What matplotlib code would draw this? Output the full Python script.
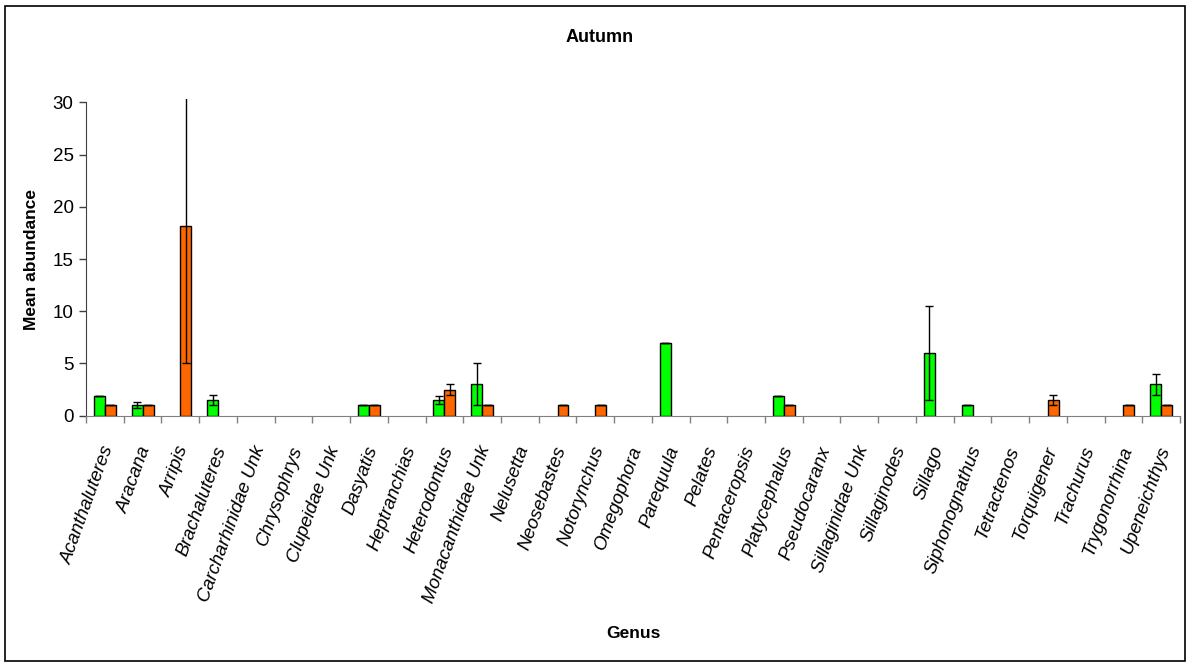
import numpy as np
import matplotlib
matplotlib.use('Agg')
from matplotlib import pyplot as plt
from matplotlib.patches import Rectangle

plt.rcParams['font.family'] = ['Liberation Sans', 'DejaVu Sans']

genera = ['Acanthaluteres', 'Aracana', 'Arripis', 'Brachaluteres', 'Carcharhinidae Unk',
          'Chrysophrys', 'Clupeidae Unk', 'Dasyatis', 'Heptranchias', 'Heterodontus',
          'Monacanthidae Unk', 'Nelusetta', 'Neosebastes', 'Notorynchus', 'Omegophora',
          'Parequula', 'Pelates', 'Pentaceropsis', 'Platycephalus', 'Pseudocaranx',
          'Sillaginidae Unk', 'Sillaginodes', 'Sillago', 'Siphonognathus', 'Tetractenos',
          'Torquigener', 'Trachurus', 'Trygonorrhina', 'Upeneichthys']

# mean abundance and standard error, two series per genus
green_mean = [1.9, 1, 0, 1.5, 0, 0, 0, 1, 0, 1.5, 3, 0, 0, 0, 0, 7, 0, 0, 1.9, 0,
              0, 0, 6, 1, 0, 0, 0, 0, 3]
green_se = [0, 0.3, 0, 0.5, 0, 0, 0, 0, 0, 0.4, 2, 0, 0, 0, 0, 0, 0, 0, 0, 0,
            0, 0, 4.5, 0, 0, 0, 0, 0, 1]
orange_mean = [1, 1, 18.2, 0, 0, 0, 0, 1, 0, 2.5, 1, 0, 1, 1, 0, 0, 0, 0, 1, 0,
               0, 0, 0, 0, 0, 1.5, 0, 1, 1]
orange_se = [0, 0, 13.2, 0, 0, 0, 0, 0, 0, 0.5, 0, 0, 0, 0, 0, 0, 0, 0, 0, 0,
             0, 0, 0, 0, 0, 0.5, 0, 0, 0]

fig = plt.figure(figsize=(11.9, 6.66), dpi=100)
fig.patches.append(Rectangle((5 / 1190, 5 / 666), 1180 / 1190, 655 / 666,
                             transform=fig.transFigure, fill=False,
                             edgecolor='black', linewidth=1.2))

ax = fig.add_axes([86 / 1190, (666 - 415.7) / 666, (1180 - 86) / 1190, 316.5 / 666])

x = np.arange(len(genera)) + 0.5
w = 0.29

for offset, mean, se, col in [(-w / 2, green_mean, green_se, '#00ff00'),
                              (w / 2, orange_mean, orange_se, '#ff6600')]:
    mean = np.array(mean, dtype=float)
    se = np.array(se, dtype=float)
    keep = mean > 0
    ax.bar(x[keep] + offset, mean[keep], width=w, color=col,
           edgecolor='black', linewidth=1.0, zorder=2)
    ax.errorbar(x[keep] + offset, mean[keep], yerr=se[keep], fmt='none',
                ecolor='black', elinewidth=1.0, capsize=3.2, capthick=1.0, zorder=3)

ax.set_xlim(0, len(genera))
ax.set_ylim(0, 30.3)
ax.set_yticks([0, 5, 10, 15, 20, 25, 30])
ax.set_xticks(np.arange(len(genera) + 1))
ax.set_xticklabels([])
ax.tick_params(axis='y', labelsize=13.5, length=5, width=1, color='#404040', pad=4)
ax.tick_params(axis='x', length=5, width=1, color='#808080')

for s in ['top', 'right']:
    ax.spines[s].set_visible(False)
ax.spines['left'].set_bounds(0, 30)
ax.spines['left'].set_color('#404040')
ax.spines['bottom'].set_color('#808080')

# genus names, italic and slanted under each pair of bars
for xi, name in zip(x, genera):
    ax.annotate(name, xy=(xi, 0), xycoords=('data', 'axes fraction'),
                xytext=(4, -31), textcoords='offset pixels',
                rotation=70, rotation_mode='anchor', ha='right', va='center',
                fontsize=13.5, style='italic')

fig.text(32 / 1190, 1 - 260 / 666, 'Mean abundance', fontsize=12.5, fontweight='bold',
         rotation=90, ha='center', va='center')
fig.text(633 / 1190, 1 - 634 / 666, 'Genus', fontsize=12.5, fontweight='bold',
         ha='center', va='center')
fig.text(600 / 1190, 1 - 38 / 666, 'Autumn', fontsize=13, fontweight='bold',
         ha='center', va='center')

fig.savefig('out.png', dpi=100)
